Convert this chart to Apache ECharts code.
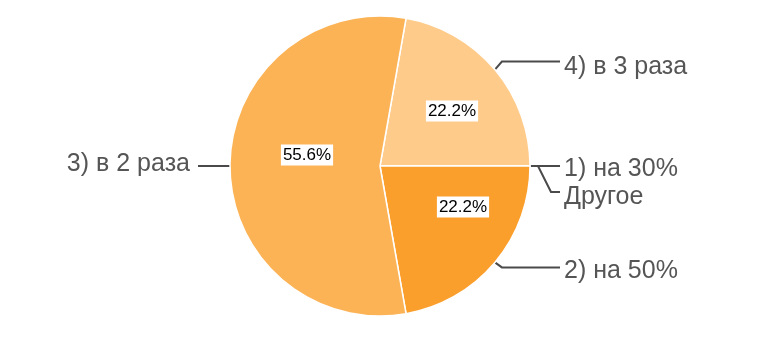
<!DOCTYPE html>
<html>
<head>
<meta charset="utf-8">
<script src="https://cdn.jsdelivr.net/npm/echarts@6/dist/echarts.min.js"></script>
<style>
html,body{margin:0;padding:0;background:#fff;}
#chart{width:778px;height:354px;}
</style>
</head>
<body>
<div id="chart"></div>
<script>
// Data (clockwise from the top slice)
const categories = ['4) в 3 раза', '1) на 30%', 'Другое', '2) на 50%', '3) в 2 раза'];
const values = [2, 0, 0, 2, 5];
const sliceColors = ['#fecb8a', '#fb9f2c', '#fb9f2c', '#fb9f2c', '#fcb356'];

const total = values.reduce((a, b) => a + b, 0);
const font = '"Liberation Sans", Arial, sans-serif';

// label placement (layout only)
const outerPos = [
  {x: 564, y: 67, align: 'left', bend: [7, -8]},
  {x: 564, y: 169, align: 'left', bend: null},
  {x: 564, y: 197, align: 'left', bend: 'branch'},
  {x: 564, y: 271, align: 'left', bend: [7, 5]},
  {x: 190, y: 164, align: 'right', bend: null}
];
const innerPos = [
  {x: 452, y: 111},
  null, null,
  {x: 463, y: 207},
  {x: 307, y: 155}
];

const chart = echarts.init(document.getElementById('chart'), null, {renderer: 'canvas'});

const outerData = categories.map((c, i) => ({name: c, value: values[i], itemStyle: {color: sliceColors[i]}}));
const innerData = categories.map((c, i) => ({
  name: c, value: values[i],
  label: {show: values[i] > 0}
}));

chart.setOption({
  animation: false,
  series: [
    {
      type: 'pie',
      center: [380, 166],
      radius: [0, 150],
      startAngle: 80,
      clockwise: true,
      avoidLabelOverlap: false,
      data: outerData,
      itemStyle: {borderColor: '#ffffff', borderWidth: 1.5},
      label: {
        show: true,
        position: 'outside',
        formatter: '{b}',
        fontFamily: font,
        fontSize: 25,
        color: '#555555'
      },
      labelLine: {show: true, length: 10, length2: 40, lineStyle: {color: '#4a4a4a', width: 2}},
      emphasis: {disabled: true},
      labelLayout: function (p) {
        const o = outerPos[p.dataIndex];
        const s = p.labelLinePoints ? p.labelLinePoints[0] : [0, 0];
        let pts;
        const endX = o.align === 'left' ? o.x - 4 : o.x + 8;
        if (o.bend === 'branch') {
          const ly = o.y - 5;
          pts = [[s[0], s[1]], [s[0] + 8, s[1]], [s[0] + 21, ly], [endX, ly]];
        } else if (o.bend) {
          const ly = s[1] + o.bend[1];
          pts = [[s[0], s[1]], [s[0] + o.bend[0], ly], [endX, ly]];
        } else {
          pts = [[s[0], s[1]], [endX, s[1]]];
        }
        return {x: o.x, y: o.y, align: o.align, verticalAlign: 'middle', labelLinePoints: pts};
      }
    },
    {
      type: 'pie',
      center: [380, 166],
      radius: [0, 150],
      startAngle: 80,
      clockwise: true,
      silent: true,
      avoidLabelOverlap: false,
      data: innerData,
      itemStyle: {color: 'rgba(0,0,0,0)'},
      label: {
        position: 'inside',
        formatter: p => (p.value / total * 100).toFixed(1) + '%',
        fontFamily: font,
        fontSize: 17,
        color: '#000000',
        backgroundColor: '#ffffff',
        padding: [3, 2, 1, 2]
      },
      labelLine: {show: false},
      emphasis: {disabled: true},
      labelLayout: function (p) {
        const o = innerPos[p.dataIndex];
        if (!o) return {};
        return {x: o.x, y: o.y, align: 'center', verticalAlign: 'middle'};
      }
    }
  ]
});
</script>
</body>
</html>
